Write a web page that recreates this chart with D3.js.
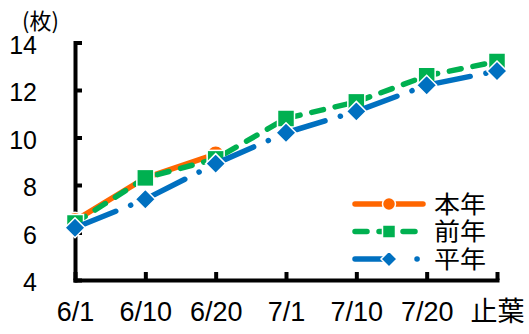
<!DOCTYPE html>
<html><head><meta charset="utf-8">
<script src="https://cdn.jsdelivr.net/npm/d3@7"></script>
<style>body{margin:0;background:#fff}svg{display:block}</style></head>
<body><svg id="c" width="529" height="334"></svg>
<script>
const categories = ["6/1","6/10","6/20","7/1","7/10","7/20","止葉"];
const honnen = [6.5, 8.3, 9.3, null, null, null, null];
const zennen = [6.4, 8.3, 9.1, 10.8, 11.5, 12.6, 13.2];
const heinen = [6.2, 7.4, 8.9, 10.2, 11.1, 12.2, 12.8];
const seriesNames = ["本年","前年","平年"];
const yTicks = [4,6,8,10,12,14];
const yUnit = "(枚)";

const svg = d3.select("#c");
const x = d3.scalePoint().domain(categories).range([75, 497]);
const y = d3.scaleLinear().domain([4,14]).range([280, 42.5]);

const series = [
  {name: seriesNames[0], values: honnen, color: "#FF6600", dash: null, legDash: null, marker: "circle"},
  {name: seriesNames[1], values: zennen, color: "#00B050", dash: "12,12", legDash: "12,12", marker: "square"},
  {name: seriesNames[2], values: heinen, color: "#0070C0", dash: "44,16,0.1,16", legDash: "38,24,0.1,24", marker: "diamond"}
];

function drawMarker(g, type, cx, cy, s, color) {
  if (type === "circle") {
    g.append("circle").attr("cx", cx).attr("cy", cy).attr("r", s/2)
      .attr("fill", color).attr("stroke", "#fff").attr("stroke-width", 1.5);
  } else if (type === "square") {
    g.append("rect").attr("x", cx - s/2).attr("y", cy - s/2).attr("width", s).attr("height", s)
      .attr("fill", color).attr("stroke", "#fff").attr("stroke-width", 1.5);
  } else {
    const h = s/2 + 1.5;
    g.append("path").attr("d", `M${cx},${cy-h}L${cx+h},${cy}L${cx},${cy+h}L${cx-h},${cy}Z`)
      .attr("fill", color).attr("stroke", "#fff").attr("stroke-width", 1.5);
  }
}

// axes
const yAxis = d3.axisLeft(y).tickValues(yTicks).tickSize(-7).tickSizeOuter(0).tickPadding(38);
const gy = svg.append("g").attr("transform", "translate(75,0)").call(yAxis);
const xAxis = d3.axisBottom(x).tickSize(-8).tickSizeOuter(0).tickPadding(24);
const gx = svg.append("g").attr("transform", "translate(0,280)").call(xAxis);
[gy, gx].forEach(g => {
  g.selectAll("path,line").attr("stroke", "#000").attr("stroke-width", 4);
  g.selectAll("text").attr("fill", "#000")
    .attr("font-family", "'Liberation Sans','Noto Sans CJK JP',sans-serif");
  g.select(".domain").attr("stroke-linecap", "square");
});
gy.selectAll("text").attr("font-size", 25).attr("dy", "0.42em");
gx.selectAll("text").attr("font-size", 27).attr("dy", "0.62em");

svg.append("text").attr("x", 22).attr("y", 29).text(yUnit)
  .attr("font-family", "'Noto Sans CJK JP',sans-serif").attr("font-size", 22).attr("fill", "#000");

// lines + markers
const line = d3.line().defined(d => d.v != null).x(d => x(d.c)).y(d => y(d.v));
series.forEach(s => {
  const pts = categories.map((c, i) => ({c, v: s.values[i]}));
  const g = svg.append("g");
  g.append("path").attr("d", line(pts)).attr("fill", "none")
    .attr("stroke", s.color).attr("stroke-width", 5.5)
    .attr("stroke-linecap", "round").attr("stroke-linejoin", "round")
    .attr("stroke-dasharray", s.dash);
  pts.filter(d => d.v != null).forEach(d => drawMarker(g, s.marker, x(d.c), y(d.v), 17, s.color));
});

// legend
const legY = [204, 231.5, 259];
series.forEach((s, i) => {
  const g = svg.append("g");
  g.append("line").attr("x1", 355).attr("x2", 423).attr("y1", legY[i]).attr("y2", legY[i])
    .attr("stroke", s.color).attr("stroke-width", 5.5).attr("stroke-linecap", "round")
    .attr("stroke-dasharray", s.legDash);
  drawMarker(g, s.marker, 389, legY[i], 13, s.color);
  g.append("text").attr("x", 434).attr("y", legY[i]).attr("dy", "0.36em").text(s.name)
    .attr("font-family", "'Noto Sans CJK JP',sans-serif").attr("font-size", 24)
    .attr("textLength", 52).attr("lengthAdjust", "spacingAndGlyphs").attr("fill", "#000");
});
</script></body></html>
